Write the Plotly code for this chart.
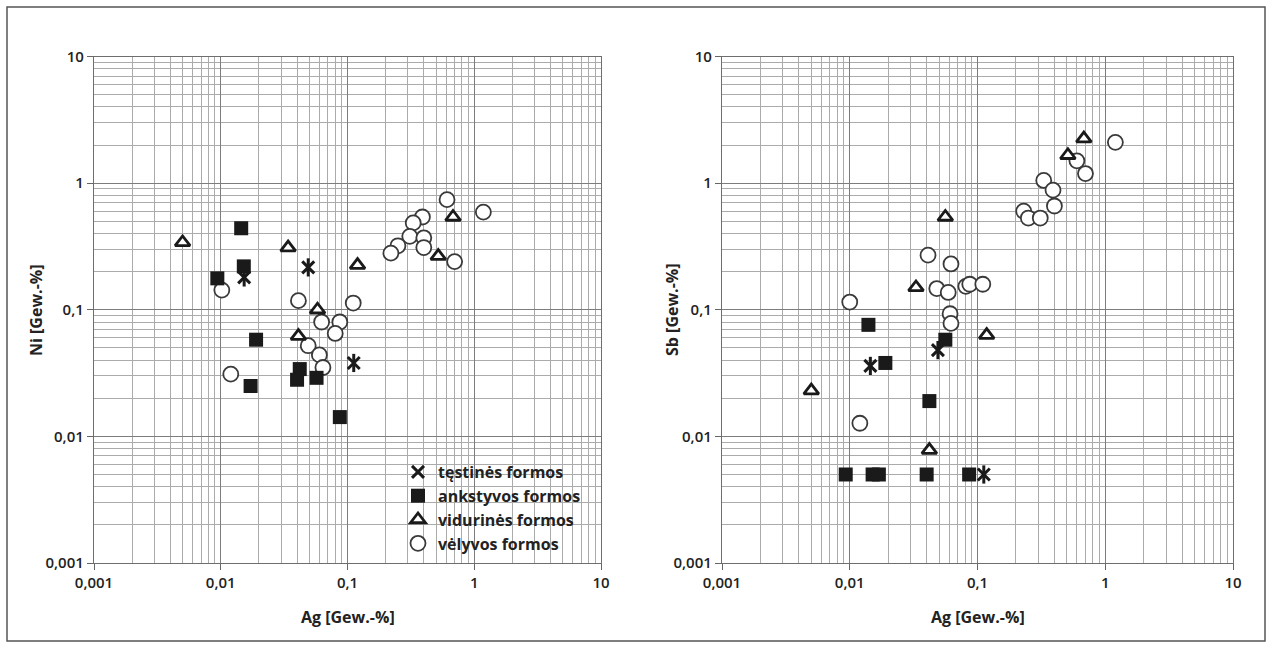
import plotly.graph_objects as go

# ---- data: Ag vs Ni (left) and Ag vs Sb (right), values in Gew.-%
series_names = ["tęstinės formos", "ankstyvos formos", "vidurinės formos", "vėlyvos formos"]

# tęstinės formos
t_ag_ni = [0.0153, 0.049, 0.112]
t_ni = [0.18, 0.216, 0.038]
t_ag_sb = [0.0145, 0.049, 0.112]
t_sb = [0.036, 0.048, 0.005]

# ankstyvos formos
a_ag_ni = [0.0145, 0.0152, 0.0094, 0.019, 0.0172, 0.042, 0.040, 0.057, 0.087]
a_ni = [0.44, 0.22, 0.177, 0.058, 0.025, 0.034, 0.028, 0.029, 0.0142]
a_ag_sb = [0.014, 0.019, 0.042, 0.056, 0.0093, 0.0151, 0.0169, 0.040, 0.086]
a_sb = [0.076, 0.038, 0.019, 0.058, 0.005, 0.005, 0.005, 0.005, 0.005]

# vidurinės formos
v_ag_ni = [0.005, 0.034, 0.12, 0.058, 0.041, 0.68, 0.52]
v_ni = [0.34, 0.31, 0.225, 0.10, 0.062, 0.54, 0.265]
v_ag_sb = [0.005, 0.033, 0.118, 0.056, 0.042, 0.68, 0.51]
v_sb = [0.023, 0.15, 0.063, 0.54, 0.0078, 2.25, 1.66]

# vėlyvos formos
l_ag_ni = [0.0102, 0.012, 0.041, 0.0625, 0.049, 0.060, 0.064, 0.111, 0.087, 0.080,
           0.61, 1.18, 0.39, 0.33, 0.31, 0.40, 0.40, 0.25, 0.22, 0.70]
l_ni = [0.143, 0.031, 0.118, 0.080, 0.052, 0.044, 0.035, 0.113, 0.080, 0.065,
        0.74, 0.59, 0.54, 0.485, 0.38, 0.37, 0.31, 0.32, 0.28, 0.24]
l_ag_sb = [0.010, 0.012, 0.041, 0.048, 0.059, 0.061, 0.062, 0.062, 0.081, 0.087, 0.110,
           1.2, 0.60, 0.70, 0.33, 0.39, 0.40, 0.23, 0.25, 0.31]
l_sb = [0.115, 0.0127, 0.27, 0.147, 0.137, 0.093, 0.078, 0.23, 0.153, 0.159, 0.159,
        2.1, 1.5, 1.19, 1.05, 0.88, 0.66, 0.60, 0.53, 0.53]

tick_vals = [0.001, 0.01, 0.1, 1, 10]
tick_text = ["0,001", "0,01", "0,1", "1", "10"]
x_title = "Ag [Gew.-%]"
y_titles = ["Ni [Gew.-%]", "Sb [Gew.-%]"]

# ---- layout geometry (pixels)
W, H = 1272, 651
def px_x(p):
    return p / W
def px_y(p):
    return (H - p) / H

y_dom = [px_y(563), px_y(56.5)]
left_dom = [px_x(94), px_x(601)]
right_dom = [px_x(722), px_x(1233)]

fig = go.Figure()

INK = "#1a1a1a"
sym_star_a = dict(symbol="x-thin-open", size=12, color=INK, line=dict(color=INK, width=3))
sym_star_b = dict(symbol="line-ns-open", size=13, color=INK, line=dict(color=INK, width=3))
sym_sq = dict(symbol="square", size=14, color=INK, line=dict(width=0))
sym_tri = dict(symbol="triangle-up", size=13, color="white", line=dict(color=INK, width=2.8))
sym_circ = dict(symbol="circle", size=15, color="white", line=dict(color="#3a3a3a", width=1.8))

panels = [
    ("x", "y", t_ag_ni, t_ni, a_ag_ni, a_ni, v_ag_ni, v_ni, l_ag_ni, l_ni, True),
    ("x2", "y2", t_ag_sb, t_sb, a_ag_sb, a_sb, v_ag_sb, v_sb, l_ag_sb, l_sb, False),
]

for xa, ya, tx, ty, ax, ay, vx, vy, lx, ly, show in panels:
    fig.add_trace(go.Scatter(x=lx, y=ly, mode="markers", marker=sym_circ, xaxis=xa, yaxis=ya,
                             name=series_names[3], legendgroup="g4", showlegend=show, legendrank=4))
    fig.add_trace(go.Scatter(x=vx, y=vy, mode="markers", marker=sym_tri, xaxis=xa, yaxis=ya,
                             name=series_names[2], legendgroup="g3", showlegend=show, legendrank=3))
    fig.add_trace(go.Scatter(x=ax, y=ay, mode="markers", marker=sym_sq, xaxis=xa, yaxis=ya,
                             name=series_names[1], legendgroup="g2", showlegend=show, legendrank=2))
    fig.add_trace(go.Scatter(x=tx, y=ty, mode="markers", marker=sym_star_a, xaxis=xa, yaxis=ya,
                             name=series_names[0], legendgroup="g1", showlegend=show, legendrank=1))
    fig.add_trace(go.Scatter(x=tx, y=ty, mode="markers", marker=sym_star_b, xaxis=xa, yaxis=ya,
                             name=series_names[0], legendgroup="g1", showlegend=False))

tick_font = dict(family="Open Sans", size=15, color="#222", weight=600)
axis_common = dict(
    type="log", range=[-3, 1], tickvals=tick_vals, ticktext=tick_text,
    showgrid=True, gridcolor="#7d7d7d", gridwidth=1.3,
    minor=dict(dtick="D1", showgrid=True, gridcolor="#ababab", gridwidth=1, ticks=""),
    ticks="outside", ticklen=6, tickcolor="#666", tickwidth=1.2,
    showline=True, linecolor="#6e6e6e", linewidth=1.3, mirror=True,
    zeroline=False, tickfont=tick_font, fixedrange=True, automargin=False,
)

fig.update_layout(
    width=W, height=H, autosize=False,
    margin=dict(l=0, r=0, t=0, b=0, pad=0, autoexpand=False),
    paper_bgcolor="white", plot_bgcolor="white",
    xaxis=dict(domain=left_dom, anchor="y", **axis_common),
    yaxis=dict(domain=y_dom, anchor="x", **axis_common),
    xaxis2=dict(domain=right_dom, anchor="y2", **axis_common),
    yaxis2=dict(domain=y_dom, anchor="x2", **axis_common),
    legend=dict(
        x=px_x(398), y=px_y(455), xanchor="left", yanchor="top",
        bgcolor="rgba(0,0,0,0)", borderwidth=0,
        font=dict(family="Open Sans", size=16, color="#222", weight=700),
        tracegroupgap=0, itemwidth=30, traceorder="grouped",
    ),
    showlegend=True,
)

# legend backdrop hides the grid behind the key
fig.add_shape(type="rect", xref="paper", yref="paper",
              x0=px_x(402), x1=px_x(598), y0=px_y(558), y1=px_y(458),
              fillcolor="white", line=dict(width=0), layer="between")

# outer frame around both panels
fig.add_shape(type="rect", xref="paper", yref="paper",
              x0=px_x(7), x1=px_x(1265), y0=px_y(641), y1=px_y(7),
              fillcolor="rgba(0,0,0,0)", line=dict(color="#555", width=1.5), layer="above")

title_font = dict(family="Open Sans", size=16, color="#222", weight=700)
for cx in [(94 + 601) / 2, (722 + 1233) / 2]:
    fig.add_annotation(text=x_title, xref="paper", yref="paper", x=px_x(cx), y=px_y(617),
                       showarrow=False, font=title_font, xanchor="center", yanchor="middle")
for cx, txt in [(36, y_titles[0]), (672, y_titles[1])]:
    fig.add_annotation(text=txt, xref="paper", yref="paper", x=px_x(cx), y=px_y(310),
                       showarrow=False, font=title_font, textangle=-90,
                       xanchor="center", yanchor="middle")

fig.write_html("out.html")
